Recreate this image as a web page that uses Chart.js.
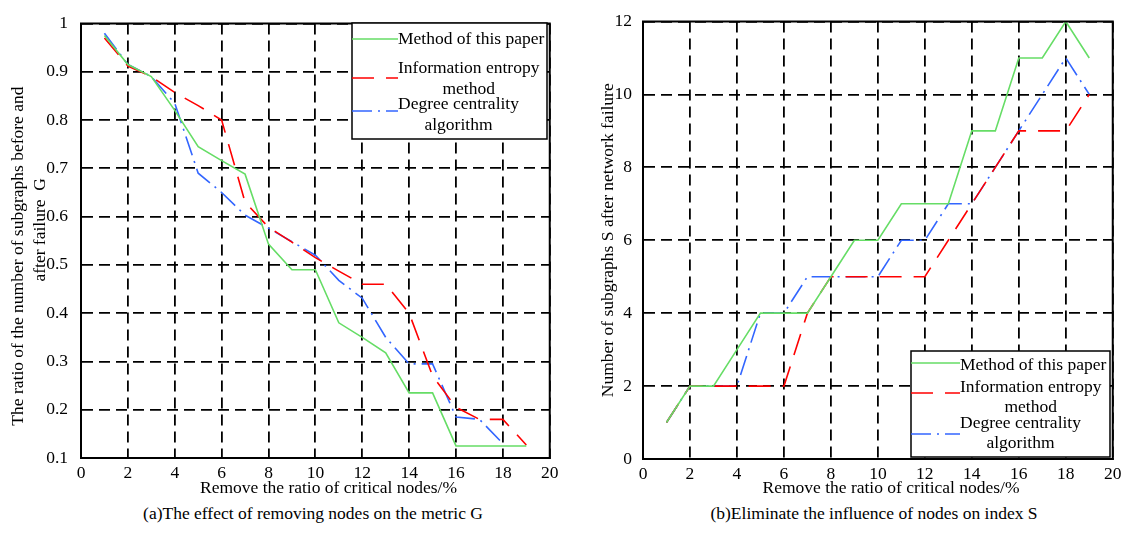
<!DOCTYPE html>
<html>
<head>
<meta charset="utf-8">
<script src="https://cdn.jsdelivr.net/npm/chart.js@4.4.1/dist/chart.umd.min.js"></script>
<style>
  body { margin: 0; background: #fff; width: 1126px; height: 534px; position: relative; overflow: hidden;
         font-family: "Liberation Serif", "Times New Roman", serif; }
  canvas { position: absolute; top: 0; }
  #chartG { left: 0; }
  #chartS { left: 563px; }
  .cap { position: absolute; top: 503px; font-size: 17.5px; white-space: nowrap; transform: translateX(-50%); color: #000; }
</style>
</head>
<body>
<canvas id="chartG" width="563" height="500"></canvas>
<canvas id="chartS" width="563" height="500"></canvas>
<div class="cap" style="left:313px">(a)The effect of removing nodes on the metric G</div>
<div class="cap" style="left:874px">(b)Eliminate the influence of nodes on index S</div>
<script>
// removed ratio of critical nodes (%)
const removed = [1, 2, 3, 4, 5, 6, 7, 8, 9, 10, 11, 12, 13, 14, 15, 16, 17, 18, 19];

// (a) metric G
const gOurs    = [0.975, 0.915, 0.89, 0.82, 0.745, 0.716, 0.688, 0.543, 0.49, 0.49, 0.38, 0.35, 0.318, 0.235, 0.235, 0.125, 0.125, 0.125, 0.125];
const gEntropy = [0.97, 0.912, 0.89, 0.857, 0.83, 0.80, 0.63, 0.578, 0.547, 0.515, 0.487, 0.46, 0.46, 0.40, 0.27, 0.205, 0.18, 0.18, 0.127];
const gDegree  = [0.98, 0.915, 0.89, 0.835, 0.69, 0.65, 0.603, 0.576, 0.548, 0.52, 0.468, 0.431, 0.35, 0.295, 0.295, 0.185, 0.18, 0.13, null];

// (b) number of subgraphs S
const sOurs    = [1, 2, 2, 3, 4, 4, 4, 5, 6, 6, 7, 7, 7, 9, 9, 11, 11, 12, 11];
const sEntropy = [1, 2, 2, 2, 2, 2, 4, 5, 5, 5, 5, 5, 6, 7, 8, 9, 9, 9, 10];
const sDegree  = [1, 2, 2, 2, 4, 4, 5, 5, 5, 5, 6, 6, 7, 7, 8, 9, 10, 11, 10];

const legendLines = [['Method of this paper'], ['Information entropy', 'method'], ['Degree centrality', 'algorithm']];

const FONT = '"Liberation Serif", "Times New Roman", serif';
const GREEN = '#66dd66', RED = '#ff0000', BLUE = '#3366ff';

function pts(ys) {
  return ys.map((y, i) => ({ x: removed[i], y: y }));
}

function datasets(ours, entropy, degree) {
  return [
    { label: 'Method of this paper', data: pts(ours), borderColor: GREEN, borderWidth: 1.6, borderDash: [] },
    { label: 'Information entropy method', data: pts(entropy), borderColor: RED, borderWidth: 1.6, borderDash: [22, 12] },
    { label: 'Degree centrality algorithm', data: pts(degree), borderColor: BLUE, borderWidth: 1.6, borderDash: [20, 6, 2, 6] }
  ];
}

// frame round the plot and the boxed legend inside it
const frameLegend = {
  id: 'frameLegend',
  afterDatasetsDraw(chart, args, o) {
    const ctx = chart.ctx;
    const a = chart.chartArea;
    ctx.save();
    ctx.setLineDash([]);
    ctx.strokeStyle = '#000';
    ctx.lineWidth = 2;
    ctx.strokeRect(a.left, a.top, a.right - a.left, a.bottom - a.top);

    ctx.fillStyle = '#fff';
    ctx.lineWidth = 1.5;
    ctx.fillRect(o.x, o.y, o.w, o.h);
    ctx.strokeRect(o.x, o.y, o.w, o.h);
    ctx.font = '17.5px ' + FONT;
    ctx.textBaseline = 'middle';
    ctx.textAlign = 'center';
    chart.data.datasets.forEach((ds, i) => {
      const it = o.items[i];
      ctx.strokeStyle = ds.borderColor;
      ctx.lineWidth = ds.borderWidth;
      ctx.setLineDash(ds.borderDash);
      ctx.beginPath();
      ctx.moveTo(o.x, o.y + it.line);
      ctx.lineTo(o.x + o.sample, o.y + it.line);
      ctx.stroke();
      const lines = legendLines[i];
      const w = Math.max(...lines.map(l => ctx.measureText(l).width));
      ctx.fillStyle = '#000';
      lines.forEach((l, j) => ctx.fillText(l, o.x + o.sample + w / 2, o.y + it.text[j]));
    });
    ctx.restore();
  }
};

function makeChart(id, cfg) {
  const tickFont = { family: FONT, size: 17.5 };
  return new Chart(document.getElementById(id), {
    type: 'line',
    data: { datasets: cfg.datasets },
    options: {
      responsive: false,
      animation: false,
      layout: { padding: { left: 0, right: 12, top: cfg.top, bottom: 0 } },
      elements: { point: { radius: 0 }, line: { tension: 0 } },
      plugins: {
        legend: { display: false },
        tooltip: { enabled: false },
        frameLegend: cfg.legend
      },
      scales: {
        x: {
          type: 'linear', min: 0, max: 20,
          ticks: { stepSize: 2, padding: 4.5, color: '#000', font: tickFont },
          grid: { color: '#000', lineWidth: 1.8, drawTicks: false },
          border: { display: true, color: '#000', width: 2, dash: [11, 6] },
          title: { display: true, text: '      Remove the ratio of critical nodes/%', color: '#000',
                   font: { family: FONT, size: 17.5, lineHeight: 1.2 }, padding: { top: 0, bottom: 1.5 } },
          afterFit(s) { s.height = cfg.xHeight; }
        },
        y: {
          min: cfg.yMin, max: cfg.yMax,
          ticks: { stepSize: cfg.yStep, padding: cfg.yPad, color: '#000', font: tickFont,
                   callback: v => String(+v.toFixed(1)) },
          grid: { color: '#000', lineWidth: 1.8, drawTicks: false },
          border: { display: true, color: '#000', width: 2, dash: [11, 6] },
          title: { display: true, text: cfg.yTitle, color: '#000',
                   font: { family: FONT, size: 17.5, lineHeight: 1.26 }, padding: { top: cfg.yTitlePad, bottom: 0 } },
          afterFit(s) { s.width = cfg.yWidth; }
        }
      }
    },
    plugins: [frameLegend]
  });
}

makeChart('chartG', {
  datasets: datasets(gOurs, gEntropy, gDegree),
  top: 13, xHeight: 42, yWidth: 81, yPad: 13,
  yMin: 0.1, yMax: 1, yStep: 0.1,
  yTitle: ['The ratio of the number of subgraphs before and       ', '     after failure  G'],
  yTitlePad: 7,
  legend: { x: 352, y: 23, w: 195, h: 116, sample: 46,
            items: [{ line: 16, text: [16] }, { line: 55, text: [45, 66] }, { line: 88, text: [81, 102] }] }
});

makeChart('chartS', {
  datasets: datasets(sOurs, sEntropy, sDegree),
  top: 14, xHeight: 41, yWidth: 80, yPad: 11,
  yMin: 0, yMax: 12, yStep: 2,
  yTitle: 'Number of subgraphs S after network failure',
  yTitlePad: 34,
  legend: { x: 348, y: 351, w: 199, h: 106, sample: 49,
            items: [{ line: 12, text: [14] }, { line: 42, text: [36, 56] }, { line: 83, text: [72, 92] }] }
});
</script>
</body>
</html>
